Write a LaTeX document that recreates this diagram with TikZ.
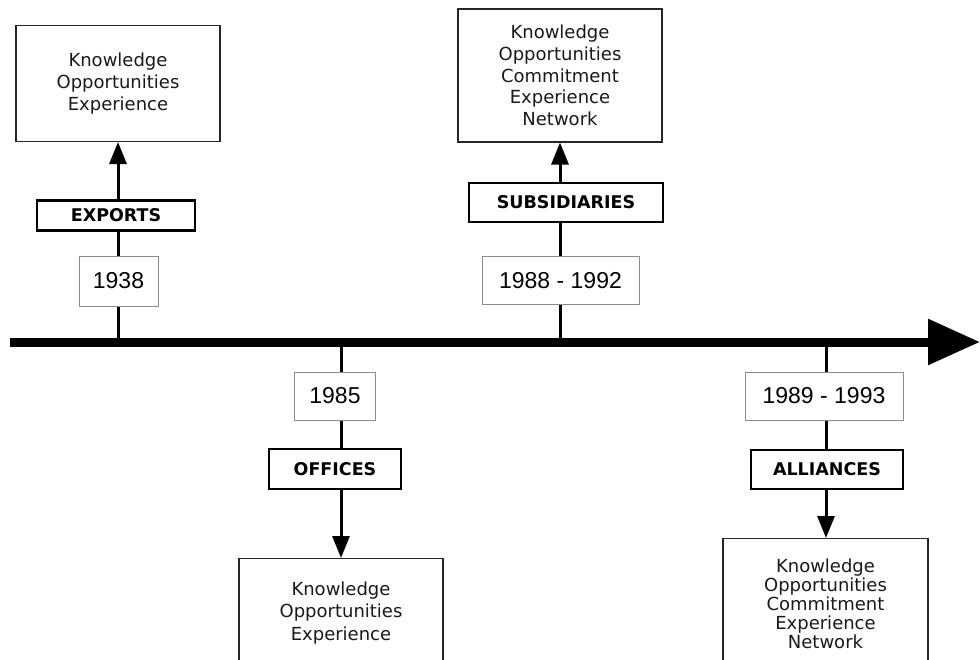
\documentclass[tikz,border=0pt]{standalone}
\usepackage{fontspec}
\setmainfont{DejaVu Sans}
\newfontfamily\yearfamily{Liberation Sans}
\usetikzlibrary{positioning, arrows.meta}
\newcommand{\infofont}{\fontsize{18}{21.7}\selectfont}
\newcommand{\phasefont}{\fontsize{17.5}{20}\selectfont\bfseries}
\newcommand{\yearfont}{\yearfamily\fontsize{23}{25}\selectfont}

\tikzset{
    infobox/.style={draw=black!85, line width=1.3pt, minimum width=204pt,
        align=center, font=\infofont, text=black!90},
    yearbox/.style={draw=black!45, line width=1pt, minimum height=48pt,
        font=\yearfont, text=black},
    phasebox/.style={draw, line width=2.5pt, font=\phasefont},
    stem/.style={line width=3pt},
    flow/.style={stem, -{Triangle[length=22pt,width=17pt]}},
}

\begin{document}
\begin{tikzpicture}[x=1pt, y=-1pt]
\useasboundingbox (0,0) rectangle (980,659);
\clip (0,0) rectangle (980,659);

% time line
\coordinate (start) at (10,342);
\coordinate (end) at (980,342);
\draw[line width=9pt, -{Triangle[length=52pt,width=44pt]}] (start) -- (end);

\coordinate (t1) at (118,342);
\coordinate (t2) at (560,342);
\coordinate (t3) at (341,342);
\coordinate (t4) at (826,342);

% exports
\node[yearbox, minimum width=79pt, minimum height=50pt] (y1938) at (118.5,281) {1938};
\node[phasebox, minimum width=158pt, minimum height=30pt, above=24pt of y1938, xshift=-2.5pt] (exports) {EXPORTS};
\node[infobox, minimum height=116pt, above=57pt of exports, xshift=2pt] (infoA)
    {Knowledge\\Opportunities\\Experience};

% subsidiaries
\node[yearbox, minimum width=157pt] (y1988) at (560.5,280.5) {1988 - 1992};
\node[phasebox, minimum width=194pt, minimum height=39pt, above=33pt of y1988, xshift=5.5pt] (subs) {SUBSIDIARIES};
\node[infobox, minimum height=133pt, above=39pt of subs, xshift=-6pt] (infoB)
    {Knowledge\\Opportunities\\Commitment\\Experience\\Network};

% offices
\node[yearbox, minimum width=81pt] (y1985) at (335,396) {1985};
\node[phasebox, minimum width=132pt, minimum height=40pt, below=27pt of y1985] (offices) {OFFICES};
\node[infobox, minimum height=108pt, below=68pt of offices, xshift=6pt,
    font=\fontsize{18}{22.5}\selectfont] (infoC)
    {Knowledge\\Opportunities\\Experience};

% alliances
\node[yearbox, minimum width=158pt] (y1989) at (824,396) {1989 - 1993};
\node[phasebox, minimum width=152pt, minimum height=39pt, below=28pt of y1989, xshift=3pt] (alliances) {ALLIANCES};
\node[infobox, minimum width=205pt, minimum height=130pt, below=48pt of alliances, xshift=-1.5pt,
    font=\fontsize{18}{19}\selectfont] (infoD)
    {Knowledge\\Opportunities\\Commitment\\Experience\\Network};

\draw[stem] (t1) -- (t1 |- y1938.south);
\draw[stem] (t1 |- y1938.north) -- (t1 |- exports.south);
\draw[flow] (t1 |- exports.north) -- (t1 |- infoA.south);

\draw[stem] (t2) -- (t2 |- y1988.south);
\draw[stem] (t2 |- y1988.north) -- (t2 |- subs.south);
\draw[flow] (t2 |- subs.north) -- (t2 |- infoB.south);

\draw[stem] (t3) -- (t3 |- y1985.north);
\draw[stem] (t3 |- y1985.south) -- (t3 |- offices.north);
\draw[flow] (t3 |- offices.south) -- (t3 |- infoC.north);

\draw[stem] (t4) -- (t4 |- y1989.north);
\draw[stem] (t4 |- y1989.south) -- (t4 |- alliances.north);
\draw[flow] (t4 |- alliances.south) -- (t4 |- infoD.north);
\end{tikzpicture}
\end{document}
